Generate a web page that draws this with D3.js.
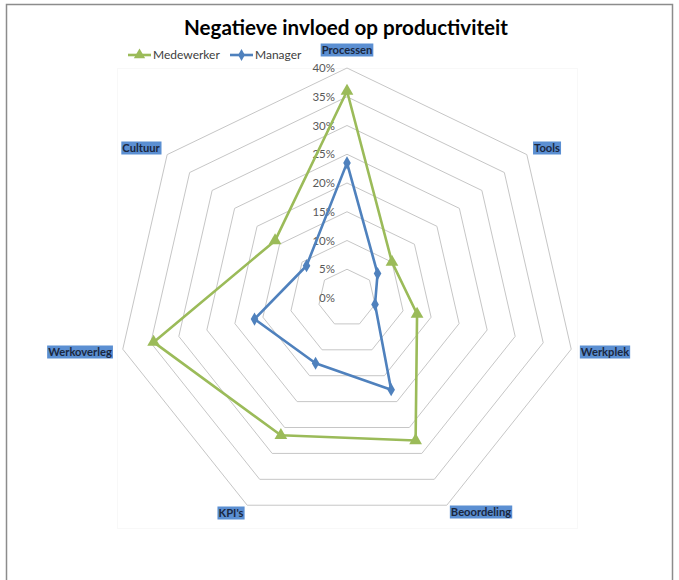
<!DOCTYPE html>
<html>
<head>
<meta charset="utf-8">
<script src="https://cdn.jsdelivr.net/npm/d3@7/dist/d3.min.js"></script>
<style>
  html, body { margin: 0; padding: 0; background: #fff; }
  svg { display: block; }
</style>
</head>
<body>
<svg id="chart" width="679" height="580"></svg>
<script>
// Categories, clockwise from the top
const categories = ["Processen", "Tools", "Werkplek", "Beoordeling", "KPI's", "Werkoverleg", "Cultuur"];
// Share of respondents (%) per category
const medewerker = [36, 10, 12.5, 27.5, 26.5, 34.5, 16];
const manager    = [23.5, 6.8, 5, 17.7, 12.6, 16.5, 9];
const tickValues = [0, 5, 10, 15, 20, 25, 30, 35, 40];
const seriesNames = ["Medewerker", "Manager"];

const FONT = "Lato, 'Open Sans', sans-serif";
const svg = d3.select("#chart");

// Outer frame
svg.append("path")
  .attr("d", "M6.5,580 L6.5,4.5 L672.5,4.5 L672.5,580")
  .attr("fill", "none").attr("stroke", "#8c8c8c").attr("stroke-width", 1.5);

// Plot area outline (very faint)
svg.append("rect")
  .attr("x", 117.5).attr("y", 68.5).attr("width", 460).attr("height", 460)
  .attr("fill", "none").attr("stroke", "#f8f8f8");

const cx = 347, cy = 298, R = 230;
const r = d3.scaleLinear().domain([0, 40]).range([0, R]);
const n = categories.length;
const angle = d3.scaleLinear().domain([0, n]).range([0, 2 * Math.PI]);
const pt = (i, v) => [cx + r(v) * Math.sin(angle(i)), cy - r(v) * Math.cos(angle(i))];

// Grid rings
const g = svg.append("g");
g.selectAll("path.ring")
  .data(tickValues.filter(t => t > 0))
  .join("path")
  .attr("class", "ring")
  .attr("d", t => d3.line()(d3.range(n).map(i => pt(i, t))) + "Z")
  .attr("fill", "none")
  .attr("stroke", "#c6c6c6")
  .attr("stroke-width", 1);

// Tick labels along the top axis
g.selectAll("text.tick")
  .data(tickValues)
  .join("text")
  .attr("class", "tick")
  .attr("x", cx - 12)
  .attr("y", t => cy - r(t))
  .attr("dy", "0.35em")
  .attr("text-anchor", "end")
  .attr("font-family", FONT)
  .attr("font-size", 11.5)
  .attr("fill", "#595959")
  .text(t => t + "%");

// Series
const series = [
  { name: seriesNames[0], values: medewerker, color: "#9bbb59", symbol: d3.symbolTriangle, size: 70 },
  { name: seriesNames[1], values: manager, color: "#4f81bd", symbol: d3.symbolDiamond, size: 50 }
];

series.forEach(s => {
  const pts = s.values.map((v, i) => pt(i, v));
  svg.append("path")
    .attr("d", d3.line()(pts) + "Z")
    .attr("fill", "none")
    .attr("stroke", s.color)
    .attr("stroke-width", 2.6)
    .attr("stroke-linejoin", "round");
  svg.append("g").selectAll("path")
    .data(pts)
    .join("path")
    .attr("transform", d => `translate(${d[0]},${d[1]})`)
    .attr("d", d3.symbol().type(s.symbol).size(s.size))
    .attr("fill", s.color);
});

// Category labels with highlighted background
const labelPos = [
  [347, 50], [547, 148], [605, 352], [481, 512], [231, 513], [80, 352], [141, 148]
];
const labels = svg.append("g");
categories.forEach((c, i) => {
  const lg = labels.append("g").attr("transform", `translate(${labelPos[i][0]},${labelPos[i][1]})`);
  const t = lg.append("text")
    .attr("text-anchor", "middle")
    .attr("dy", "0.35em")
    .attr("font-family", FONT)
    .attr("font-weight", "bold")
    .attr("font-size", 11.2)
    .attr("fill", "#1a2740")
    .text(c);
  const bb = t.node().getBBox();
  lg.insert("rect", "text")
    .attr("x", bb.x - 1).attr("y", -6.5)
    .attr("width", bb.width + 2).attr("height", 13)
    .attr("fill", "#5b8fd2");
});

// Title
svg.append("text")
  .attr("x", 346).attr("y", 35)
  .attr("text-anchor", "middle")
  .attr("font-family", FONT)
  .attr("font-weight", "bold")
  .attr("font-size", 20.6)
  .attr("fill", "#000")
  .text("Negatieve invloed op productiviteit");

// Legend
const legend = svg.append("g");
const legendX = [128, 230];
series.forEach((s, i) => {
  const lg = legend.append("g").attr("transform", `translate(${legendX[i]},55)`);
  lg.append("line").attr("x1", 0).attr("x2", 23).attr("y1", 0).attr("y2", 0)
    .attr("stroke", s.color).attr("stroke-width", 2.6);
  lg.append("path").attr("transform", "translate(11.5,0)")
    .attr("d", d3.symbol().type(s.symbol).size(s.size * 0.8))
    .attr("fill", s.color);
  lg.append("text").attr("x", 25).attr("dy", "0.35em")
    .attr("font-family", FONT).attr("font-size", 12)
    .attr("fill", "#404040")
    .text(s.name);
});
</script>
</body>
</html>
